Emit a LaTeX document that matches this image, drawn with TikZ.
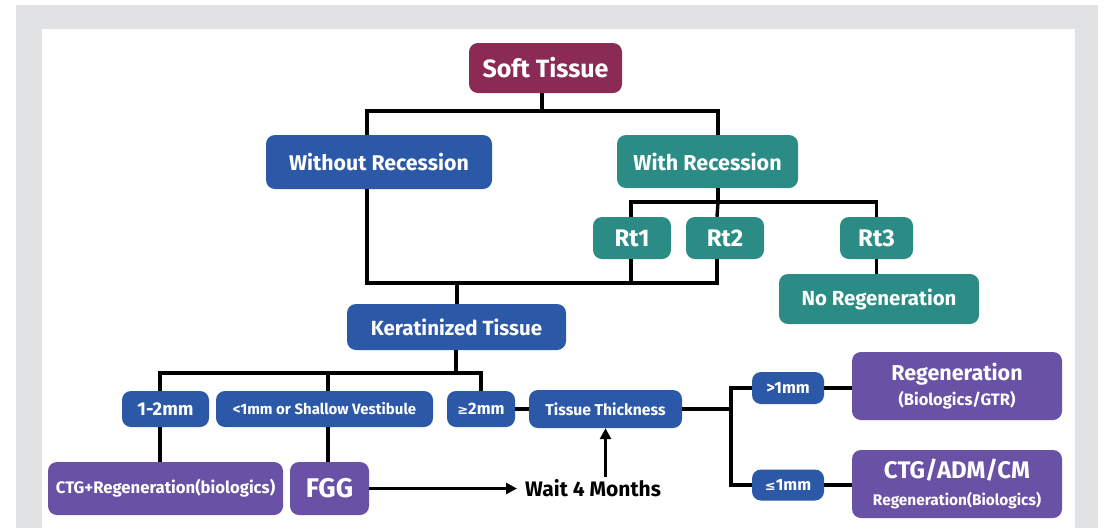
\documentclass[tikz,border=0pt]{standalone}
\usepackage{fontspec}
\setmainfont{Fira Sans}
\newfontfamily\dv{DejaVu Sans}
\usetikzlibrary{arrows.meta}
\definecolor{bgg}{HTML}{E1E2E4}
\definecolor{maroon}{HTML}{8B2A55}
\definecolor{dblue}{HTML}{2C58A8}
\definecolor{teal}{HTML}{2B8C85}
\definecolor{purp}{HTML}{6951A5}
\newcommand{\fsz}[1]{\fontsize{#1}{#1}\selectfont}
\begin{document}
\begin{tikzpicture}[x=1pt,y=-1pt,
  box/.style={rounded corners=9pt, text=white, inner sep=0pt, align=center},
  conn/.style={line width=3.4pt, black},
  arr/.style={conn, -{Triangle[length=11pt,width=11pt]}}]
\useasboundingbox (0,0) rectangle (1107,528);
\fill[white] (0,0) rectangle (1107,528);
\fill[bgg] (16,5) rectangle (1098,528);
\fill[white] (42,29) rectangle (1075,528);

% nodes
\node[box, fill=maroon, minimum width=153pt, minimum height=50pt, font=\bfseries\fsz{25}] (soft) at (545.5,68) {Soft Tissue};
\node[box, fill=dblue, minimum width=226pt, minimum height=54pt, font=\bfseries\fsz{21.3}] (without) at (379,162) {Without Recession};
\node[box, fill=teal, minimum width=181pt, minimum height=53pt, font=\bfseries\fsz{21.5}] (with) at (707.5,161.5) {With Recession};
\node[box, fill=teal, minimum width=78pt, minimum height=42pt, font=\bfseries\fsz{24}] (rt1) at (632,238) {Rt1};
\node[box, fill=teal, minimum width=78pt, minimum height=42pt, font=\bfseries\fsz{24}] (rt2) at (725,238) {Rt2};
\node[box, fill=teal, minimum width=73pt, minimum height=42pt, font=\bfseries\fsz{24}] (rt3) at (876.5,238) {Rt3};
\node[box, fill=teal, minimum width=200pt, minimum height=50pt, font=\bfseries\fsz{20.4}] (noregen) at (879,299) {No Regeneration};
\node[box, fill=dblue, minimum width=219pt, minimum height=46pt, font=\bfseries\fsz{20.5}] (kera) at (456.5,327) {Keratinized Tissue};
\node[box, fill=dblue, minimum width=87pt, minimum height=36pt, font=\bfseries\fsz{18.5}] (mm12) at (165.5,409) {1-2mm};
\node[box, fill=dblue, minimum width=217pt, minimum height=36pt, font=\bfseries\fsz{15}] (lt1) at (324.5,409) {<1mm or Shallow Vestibule};
\node[box, fill=dblue, minimum width=68pt, minimum height=36pt, font=\bfseries\fsz{16.5}] (ge2) at (481,409) {{\dv\fsz{13}≥}2mm};
\node[box, fill=dblue, minimum width=153pt, minimum height=38pt, font=\bfseries\fsz{15.7}] (thick) at (605.5,409) {Tissue Thickness};
\node[box, fill=dblue, minimum width=72pt, minimum height=32pt, font=\bfseries\fsz{16.4}] (gt1) at (788,388) {>1mm};
\node[box, fill=dblue, minimum width=72pt, minimum height=31pt, font=\bfseries\fsz{16.4}] (le1) at (788,485) {{\dv\fsz{13}≤}1mm};
\node[box, fill=purp, minimum width=210pt, minimum height=68pt, font=\bfseries\fsz{21.5}] (regen) at (957,386) {Regeneration\\[3pt]{\fsz{16.5}(Biologics/GTR)}};
\node[box, fill=purp, minimum width=210pt, minimum height=68pt, font=\bfseries\fsz{24}] (ctgadm) at (957,484) {CTG/ADM/CM\\[3pt]{\fsz{15.4}Regeneration(Biologics)}};
\node[box, fill=purp, minimum width=235pt, minimum height=53pt, font=\bfseries\fsz{16.7}] (ctgreg) at (165.5,488.5) {CTG+Regeneration(biologics)};
\node[box, fill=purp, minimum width=79pt, minimum height=53pt, font=\bfseries\fsz{27}] (fgg) at (329.5,488.5) {FGG};
\node[anchor=west, inner xsep=8pt, inner ysep=3pt, font=\bfseries\fsz{21}] (wait) at (517,488.5) {Wait 4 Months};

% junctions
\coordinate (j1) at (542,111);
\coordinate (j2) at (718,202);
\coordinate (j3) at (457,283);
\coordinate (j4) at (456,373);
\coordinate (j5) at (731,409);

% connectors
\draw[conn] ([xshift=-3.5pt]soft.south) -- (j1);
\draw[conn] ([xshift=-12pt]without.north) |- (j1) -| ([xshift=10.5pt]with.north);
\draw[conn] ([xshift=10.5pt]with.south) -- (j2);
\draw[conn] ([xshift=-1pt]rt1.north) |- (j2) -| (rt3.north);
\draw[conn] (j2) -- ([xshift=-8pt]rt2.north);
\draw[conn] (rt3.south) -- (rt3.south |- noregen.north);
\draw[conn] ([xshift=-12pt]without.south) |- (j3) -| ([xshift=-8pt]rt2.south);
\draw[conn] ([xshift=-1pt]rt1.south) -- ([xshift=-1pt]rt1.south |- j3);
\draw[conn] (j3) -- (j3 |- kera.north);
\draw[conn] (j4 |- kera.south) -- (j4);
\draw[conn] ([xshift=-5.5pt]mm12.north) |- (j4) -| (ge2.north);
\draw[conn] ([xshift=3.5pt]lt1.north) -- ([xshift=3.5pt]lt1.north |- j4);
\draw[conn] (ge2.east) -- (thick.west);
\draw[conn] (thick.east) -- (j5);
\draw[conn] (gt1.west) -| (j5) |- (le1.west);
\draw[conn] (gt1.east) -- (gt1.east -| regen.west);
\draw[conn] (le1.east) -- (le1.east -| ctgadm.west);
\draw[conn] ([xshift=-5.5pt]mm12.south) -- ([xshift=-5.5pt]mm12.south |- ctgreg.north);
\draw[conn] ([xshift=3.5pt]lt1.south) -- ([xshift=3.5pt]lt1.south |- fgg.north);
\draw[arr] (fgg.east) -- (wait.west);
\draw[arr] (thick.south |- wait.north) -- (thick.south);
\end{tikzpicture}
\end{document}
